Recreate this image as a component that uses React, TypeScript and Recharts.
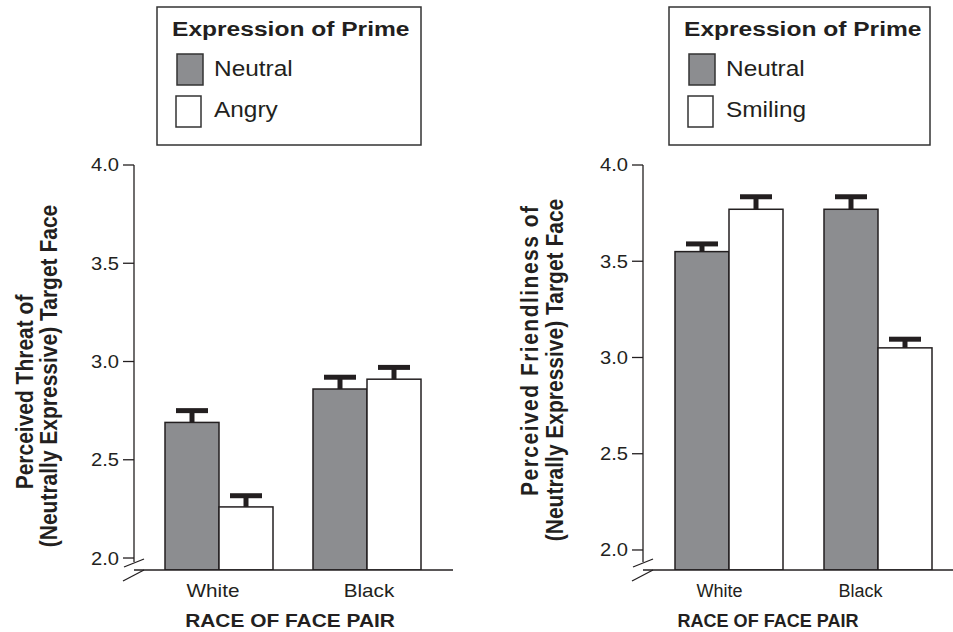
import React from 'react';
import { BarChart, Bar, XAxis, YAxis } from 'recharts';

// ---------- data ----------
const categories = ['White', 'Black'];
const yTicks = [2.0, 2.5, 3.0, 3.5, 4.0];

// Left panel: perceived threat
const threatNeutral = [2.69, 2.86];
const threatNeutralErr = [0.06, 0.06];
const threatAngry = [2.26, 2.91];
const threatAngryErr = [0.057, 0.06];

// Right panel: perceived friendliness
const friendNeutral = [3.55, 3.77];
const friendNeutralErr = [0.04, 0.065];
const friendSmiling = [3.77, 3.05];
const friendSmilingErr = [0.065, 0.045];

const legendTitle = 'Expression of Prime';
const threatLabel = ['Perceived Threat of', '(Neutrally Expressive) Target Face'];
const friendLabel = ['Perceived Friendliness of', '(Neutrally Expressive) Target Face'];
const xTitle = 'RACE OF FACE PAIR';

// ---------- style ----------
const INK = '#231f20';
const GRAY = '#8c8d90';
const FONT = '"Liberation Sans", Arial, Helvetica, sans-serif';

const threatSeries = [
  { key: 'neutral', err: 'neutralErr', name: 'Neutral', fill: GRAY },
  { key: 'second', err: 'secondErr', name: 'Angry', fill: '#ffffff' },
];
const friendSeries = [
  { key: 'neutral', err: 'neutralErr', name: 'Neutral', fill: GRAY },
  { key: 'second', err: 'secondErr', name: 'Smiling', fill: '#ffffff' },
];

const threatData = categories.map((c, i) => ({
  cat: c,
  neutral: threatNeutral[i],
  neutralErr: threatNeutralErr[i],
  second: threatAngry[i],
  secondErr: threatAngryErr[i],
}));
const friendData = categories.map((c, i) => ({
  cat: c,
  neutral: friendNeutral[i],
  neutralErr: friendNeutralErr[i],
  second: friendSmiling[i],
  secondErr: friendSmilingErr[i],
}));

const makeShape = (fill: string, dataKey: string, errKey: string, domainMin: number) => (props: any) => {
  const { x, y, width, height, payload } = props;
  const v = payload[dataKey];
  const pxPerUnit = height / (v - domainMin);
  const e = payload[errKey] * pxPerUnit;
  const cx = x + width / 2;
  return (
    <g>
      <rect x={x} y={y} width={width} height={height} fill={fill} stroke={INK} strokeWidth={1.5} />
      <line x1={cx} x2={cx} y1={y} y2={y - e} stroke={INK} strokeWidth={5} />
      <line x1={cx - 16} x2={cx + 16} y1={y - e} y2={y - e} stroke={INK} strokeWidth={5} />
    </g>
  );
};

const YTick = (props: any) => {
  const { x, y, payload } = props;
  return (
    <g transform={`translate(${x},${y}) scale(1.12,1)`}>
      <text x={0} y={0} dy="0.36em" textAnchor="end" fontSize={18} fontFamily={FONT} fill={INK}>
        {Number(payload.value).toFixed(1)}
      </text>
    </g>
  );
};

const makeXTick = (shifts: number[], sx: number) => (props: any) => {
  const { x, y, payload, index } = props;
  const dx = shifts[index] || 0;
  return (
    <g transform={`translate(${x + dx},${y + 27}) scale(${sx},1)`}>
      <text x={0} y={0} textAnchor="middle" fontSize={18} fontFamily={FONT} fill={INK}>
        {payload.value}
      </text>
    </g>
  );
};

type PanelProps = {
  data: any[];
  series: any[];
  domainMin: number;
  width: number;
  marginLeft: number;
  marginRight: number;
  padLeft: number;
  padRight: number;
  tickShifts: number[];
  tickSx: number;
};

const Panel = ({ data, series, domainMin, width, marginLeft, marginRight, padLeft, padRight, tickShifts, tickSx }: PanelProps) => {
  const XT = makeXTick(tickShifts, tickSx);
  return (
    <BarChart
      width={width}
      height={632}
      data={data}
      margin={{ top: 165, right: marginRight, bottom: 32, left: marginLeft }}
      barGap={0}
      barSize={54}
    >
      <XAxis
        dataKey="cat"
        padding={{ left: padLeft, right: padRight }}
        axisLine={{ stroke: INK, strokeWidth: 1.3 }}
        tickLine={false}
        tickSize={0}
        tickMargin={0}
        height={30}
        interval={0}
        tick={<XT />}
      />
      <YAxis
        type="number"
        domain={[domainMin, 4]}
        ticks={yTicks}
        allowDataOverflow
        axisLine={false}
        tickLine={{ stroke: INK, strokeWidth: 1.3 }}
        tickSize={11}
        tickMargin={4}
        width={60}
        tick={<YTick />}
      />
      {series.map((s) => (
        <Bar
          key={s.key}
          dataKey={s.key}
          name={s.name}
          fill={s.fill}
          isAnimationActive={false}
          shape={makeShape(s.fill, s.key, s.err, domainMin)}
        />
      ))}
    </BarChart>
  );
};

const LegendBox = ({ x, y, w, h, series }: any) => (
  <g fontFamily={FONT} fill={INK}>
    <rect x={x} y={y} width={w} height={h} fill="#fff" stroke="#333" strokeWidth={1.5} />
    <g transform={`translate(${x + 15},${y + 29}) scale(1.17,1)`}>
      <text x={0} y={0} fontSize={21} fontWeight="bold">{legendTitle}</text>
    </g>
    {series.map((s: any, i: number) => (
      <g key={s.key}>
        <rect x={x + 20 - i} y={y + 47 + i * 42} width={26 - i} height={31} fill={s.fill} stroke="#333" strokeWidth={1.5} />
        <g transform={`translate(${x + 57},${y + 69 + i * 41}) scale(1.11,1)`}>
          <text x={0} y={0} fontSize={22}>{s.name}</text>
        </g>
      </g>
    ))}
  </g>
);

const AxisDecor = ({ ax, top, by }: any) => (
  <g stroke={INK} strokeWidth={1.3}>
    <line x1={ax} x2={ax} y1={top} y2={by - 8} />
    <line x1={ax - 10} y1={by - 3} x2={ax + 10} y2={by - 11} />
    <line x1={ax - 11} y1={by + 11} x2={ax + 10} y2={by} />
  </g>
);

const YLabel = ({ x, y, text, len }: any) => (
  <g transform={`translate(${x},${y}) scale(1.15,1) rotate(-90)`}>
    <text
      x={0}
      y={0}
      textAnchor="middle"
      fontSize={21}
      fontWeight="bold"
      fontFamily={FONT}
      fill={INK}
      {...(len ? { textLength: len, lengthAdjust: 'spacing' } : {})}
    >
      {text}
    </text>
  </g>
);

const XTitle = ({ x, y, sx }: any) => (
  <g transform={`translate(${x},${y}) scale(${sx},1)`}>
    <text x={0} y={0} textAnchor="middle" fontSize={19} fontWeight="bold" fontFamily={FONT} fill={INK}>
      {xTitle}
    </text>
  </g>
);

export default function App() {
  return (
    <div style={{ position: 'absolute', left: 0, top: 0, width: 953, height: 632, background: '#fff', overflow: 'hidden' }}>
      <div style={{ position: 'absolute', left: 0, top: 0 }}>
        <Panel
          data={threatData}
          series={threatSeries}
          domainMin={1.939}
          width={476}
          marginLeft={74}
          marginRight={23}
          padLeft={11}
          padRight={12}
          tickShifts={[-6, 2]}
          tickSx={1.15}
        />
      </div>
      <div style={{ position: 'absolute', left: 476, top: 0 }}>
        <Panel
          data={friendData}
          series={friendSeries}
          domainMin={1.896}
          width={477}
          marginLeft={107}
          marginRight={0}
          padLeft={11}
          padRight={1}
          tickShifts={[-9, -17]}
          tickSx={1.0}
        />
      </div>
      <svg width={953} height={632} style={{ position: 'absolute', left: 0, top: 0, pointerEvents: 'none' }}>
        <LegendBox x={157} y={7} w={264} h={138} series={threatSeries} />
        <LegendBox x={669} y={7} w={261} h={138} series={friendSeries} />
        <AxisDecor ax={134} top={165} by={570} />
        <AxisDecor ax={643} top={165} by={570} />
        <YLabel x={33} y={392} text={threatLabel[0]} />
        <YLabel x={57} y={376} text={threatLabel[1]} />
        <YLabel x={538} y={351} text={friendLabel[0]} len={290} />
        <YLabel x={563} y={370} text={friendLabel[1]} />
        <XTitle x={290} y={627} sx={1.1} />
        <XTitle x={768} y={627} sx={0.95} />
      </svg>
    </div>
  );
}
